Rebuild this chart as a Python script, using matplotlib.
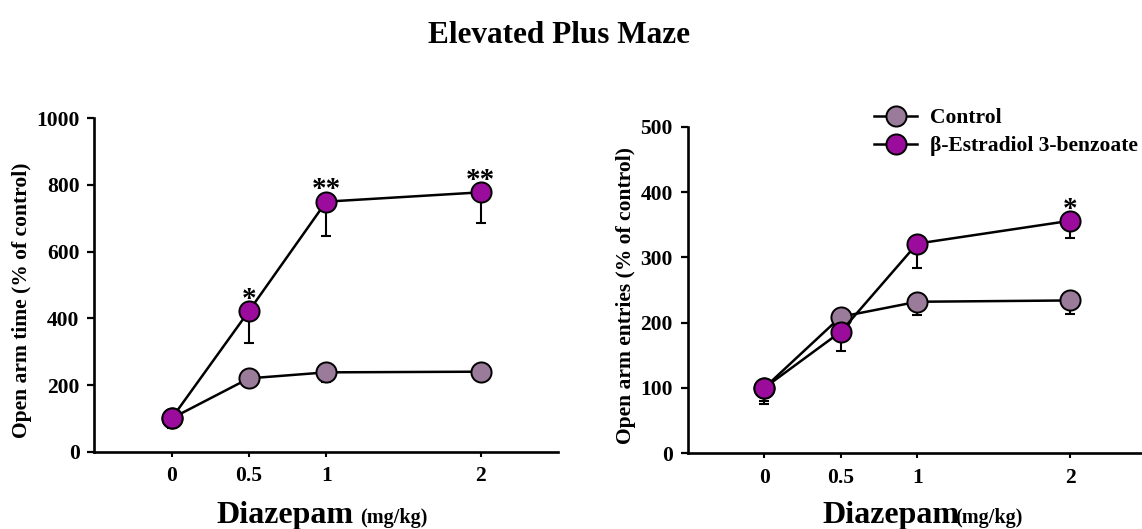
import matplotlib
matplotlib.use("Agg")
import matplotlib.pyplot as plt
from matplotlib.lines import Line2D
import numpy as np

# Diazepam doses (mg/kg)
doses = [0, 0.5, 1, 2]
dose_labels = ["0", "0.5", "1", "2"]

# Open arm time (% of control), mean and lower SEM
time_control = [100, 220, 238, 240]
time_control_err = [30, 15, 28, 15]
time_e2 = [100, 422, 750, 778]
time_e2_err = [25, 96, 103, 92]
time_sig = ["", "*", "**", "**"]

# Open arm entries (% of control), mean and lower SEM
entries_control = [100, 209, 232, 234]
entries_control_err = [25, 15, 20, 21]
entries_e2 = [100, 186, 321, 356]
entries_e2_err = [20, 29, 38, 26]
entries_sig = ["", "", "", "*"]

series_names = ["Control", "\u03b2-Estradiol 3-benzoate"]
color_control = "#9a7b9a"
color_e2 = "#9c0c9c"

FONT = "Liberation Serif"
plt.rcParams["font.family"] = [FONT, "DejaVu Serif"]
plt.rcParams["font.weight"] = "bold"

W, H = 1142, 529
fig = plt.figure(figsize=(W / 100, H / 100), dpi=100)

LW = 1.8
MS = 14.5
MEW = 1.4


def fx(px):
    return px / W


def fy(py):
    return 1 - py / H


def draw_panel(ax, ctrl, ctrl_err, e2, e2_err, sig, ymax, ystep):
    x = np.array(doses, dtype=float)
    # error bars (downward only), drawn beneath the markers
    ax.errorbar(x, ctrl, yerr=[ctrl_err, np.zeros(len(ctrl_err))], fmt="none",
                ecolor="black", elinewidth=1.5, capsize=3.5, capthick=1.5, zorder=2)
    ax.plot(x, ctrl, "-o", color="black", lw=LW, ms=MS, mfc=color_control,
            mec="black", mew=MEW, zorder=3)
    ax.errorbar(x, e2, yerr=[e2_err, np.zeros(len(e2_err))], fmt="none",
                ecolor="black", elinewidth=1.5, capsize=3.5, capthick=1.5, zorder=4)
    ax.plot(x, e2, "-o", color="black", lw=LW, ms=MS, mfc=color_e2,
            mec="black", mew=MEW, zorder=5)
    for xi, yi, s in zip(x, e2, sig):
        if s:
            ax.annotate(s, (xi, yi), xytext=(0, 3), textcoords="offset points",
                        ha="center", va="baseline", fontsize=21,
                        fontweight="bold", family=FONT)

    ax.set_xlim(-0.5, 2.5)
    ax.set_ylim(0, ymax)
    ax.set_xticks(doses)
    ax.set_xticklabels(dose_labels)
    ax.set_yticks(np.arange(0, ymax + 1, ystep))
    for side in ("top", "right"):
        ax.spines[side].set_visible(False)
    for side in ("left", "bottom"):
        ax.spines[side].set_linewidth(1.9)
    ax.tick_params(axis="y", direction="out", length=4.7, width=1.6, pad=6,
                   labelsize=15.5)
    ax.tick_params(axis="x", direction="out", length=3.6, width=1.5, pad=7,
                   labelsize=15.5)
    for lab in ax.get_xticklabels() + ax.get_yticklabels():
        lab.set_fontweight("bold")
        lab.set_family(FONT)
    ax.patch.set_visible(False)


ax1 = fig.add_axes([fx(94.4), fy(451.7), (558 - 94.4) / W, (451.7 - 118.3) / H])
ax2 = fig.add_axes([fx(687.7), fy(453.3), (1146.7 - 687.7) / W, (453.3 - 126.7) / H])

draw_panel(ax1, time_control, time_control_err, time_e2, time_e2_err,
           time_sig, 1000, 200)
draw_panel(ax2, entries_control, entries_control_err, entries_e2, entries_e2_err,
           entries_sig, 500, 100)

# Title
fig.text(fx(559), fy(43), "Elevated Plus Maze", ha="center", va="baseline",
         fontsize=22.5, fontweight="bold", family=FONT)

# Y axis labels
fig.text(fx(22), fy(300), "Open arm time (% of control)", rotation=90,
         ha="center", va="center", fontsize=15.5, fontweight="bold", family=FONT)
fig.text(fx(626), fy(296), "Open arm entries (% of control)", rotation=90,
         ha="center", va="center", fontsize=15.5, fontweight="bold", family=FONT)

# X axis labels: large "Diazepam" followed by smaller unit
for x_main, x_unit in ((216, 360), (822, 955)):
    fig.text(fx(x_main), fy(523), "Diazepam", ha="left", va="baseline",
             fontsize=23, fontweight="bold", family=FONT)
    fig.text(fx(x_unit), fy(523), "(mg/kg)", ha="left", va="baseline",
             fontsize=14.5, fontweight="bold", family=FONT)

# Legend
handles = [
    Line2D([0], [0], color="black", lw=LW, marker="o", ms=MS,
           mfc=color_control, mec="black", mew=MEW),
    Line2D([0], [0], color="black", lw=LW, marker="o", ms=MS,
           mfc=color_e2, mec="black", mew=MEW),
]
fig.legend(handles, series_names, loc="upper left",
           bbox_to_anchor=(fx(874), fy(108)), bbox_transform=fig.transFigure,
           frameon=False, handlelength=2.0, handletextpad=0.6,
           labelspacing=0.38, borderpad=0, borderaxespad=0,
           prop={"family": FONT, "weight": "bold", "size": 15.5})

fig.savefig("out.png", dpi=100)
